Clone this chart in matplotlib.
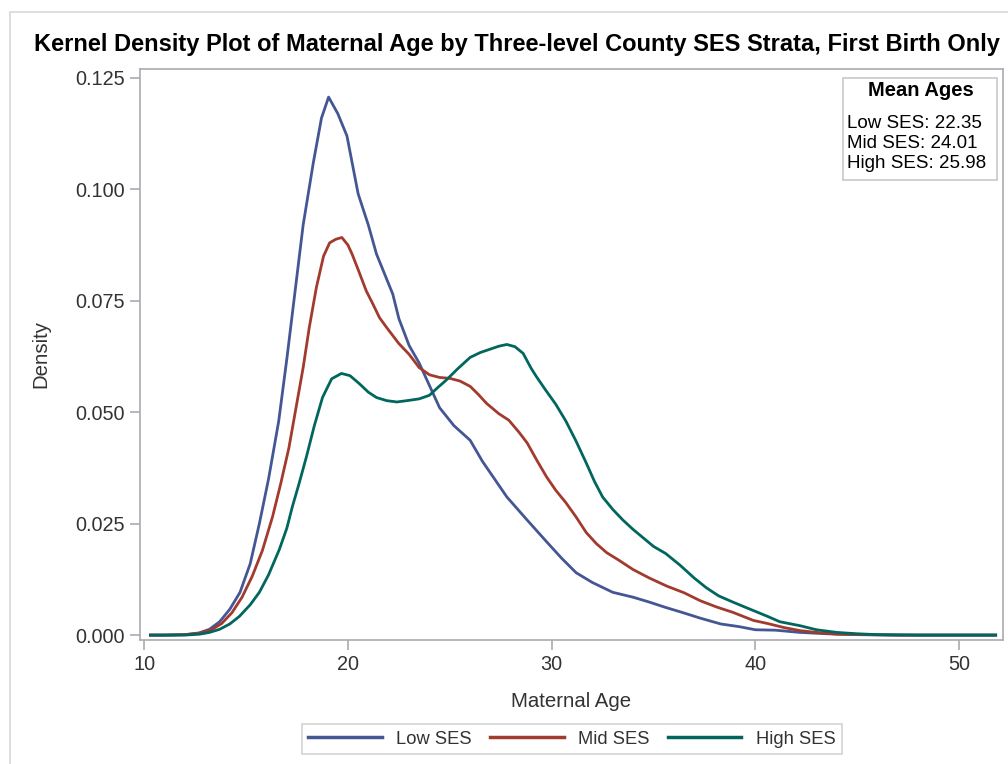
import matplotlib
matplotlib.use("Agg")
import matplotlib.pyplot as plt
from matplotlib.patches import Rectangle
from matplotlib.lines import Line2D

plt.rcParams['font.family'] = ['Liberation Sans', 'DejaVu Sans']

# kernel density estimates
low_age = [10.3, 11, 12, 12.7, 13.2, 13.7, 14.2, 14.7, 15.2, 15.65, 16.1, 16.6, 17.0, 17.4, 17.8,
           18.3, 18.7, 19.05, 19.5, 19.95, 20.5, 21.0, 21.4, 21.8, 22.2, 22.5, 23.0, 23.5, 24.0,
           24.5, 25.2, 26.0, 26.6, 27.2, 27.8, 28.8, 29.8, 30.5, 31.2, 32.0, 33.0, 34.0, 34.8,
           35.6, 36.4, 37.3, 38.3, 39.2, 40.0, 41.0, 42.2, 43.5, 45, 47, 50, 51.8]
low_dens = [0, 0, 0.0001, 0.0005, 0.0013, 0.003, 0.0058, 0.0096, 0.016, 0.025, 0.035, 0.048, 0.062,
            0.077, 0.092, 0.106, 0.116, 0.1207, 0.117, 0.112, 0.099, 0.092, 0.0855, 0.081, 0.0765,
            0.071, 0.065, 0.061, 0.056, 0.051, 0.047, 0.0437, 0.039, 0.035, 0.031, 0.0258, 0.0207,
            0.0172, 0.014, 0.0118, 0.0096, 0.0085, 0.0074, 0.0062, 0.0051, 0.0038, 0.0025, 0.0019,
            0.0012, 0.0011, 0.0006, 0.0003, 0.0001, 0, 0, 0]

mid_age = [10.3, 11, 12, 12.7, 13.3, 13.8, 14.3, 14.8, 15.3, 15.8, 16.3, 16.7, 17.1, 17.45, 17.8,
           18.1, 18.45, 18.8, 19.1, 19.4, 19.7, 20.0, 20.2, 20.5, 20.9, 21.2, 21.55, 21.9, 22.2,
           22.5, 23.0, 23.5, 24.0, 24.5, 25.0, 25.5, 26.0, 26.4, 26.8, 27.4, 27.9, 28.4, 28.8,
           29.3, 29.75, 30.2, 30.7, 31.2, 31.7, 32.2, 32.7, 33.3, 34.0, 34.8, 35.65, 36.5, 37.3,
           38.1, 38.9, 39.9, 40.6, 41.4, 42.2, 43, 44, 45.5, 47, 51.8]
mid_dens = [0, 0, 0.0001, 0.0004, 0.0012, 0.0026, 0.005, 0.0085, 0.0132, 0.019, 0.0266, 0.034,
            0.042, 0.051, 0.06, 0.069, 0.078, 0.085, 0.088, 0.0888, 0.0892, 0.0875, 0.0855, 0.082,
            0.0772, 0.0745, 0.0712, 0.069, 0.0672, 0.0654, 0.063, 0.06, 0.0584, 0.0578, 0.0576,
            0.057, 0.0558, 0.054, 0.052, 0.0497, 0.0482, 0.0455, 0.0431, 0.039, 0.0355, 0.0325,
            0.0297, 0.0265, 0.023, 0.0205, 0.0185, 0.0168, 0.0147, 0.0128, 0.011, 0.0095, 0.0077,
            0.0063, 0.0051, 0.0033, 0.0026, 0.0017, 0.001, 0.0006, 0.0002, 0.0001, 0, 0]

high_age = [10.3, 11, 12, 12.7, 13.2, 13.7, 14.2, 14.67, 15.2, 15.65, 16.1, 16.63, 17.0, 17.27,
            17.6, 17.96, 18.35, 18.75, 19.2, 19.68, 20.1, 20.56, 21.0, 21.4, 21.9, 22.4, 22.9,
            23.5, 24.0, 24.4, 24.8, 25.4, 26.0, 26.5, 26.95, 27.4, 27.8, 28.2, 28.6, 29.0, 29.25,
            29.7, 30.2, 30.7, 31.2, 31.7, 32.1, 32.5, 33.0, 33.5, 34.0, 34.5, 35.0, 35.6, 36.3,
            37.0, 37.6, 38.2, 38.9, 39.8, 40.6, 41.2, 42.2, 43.0, 44.0, 45, 46, 48, 51.8]
high_dens = [0, 0, 0, 0.0002, 0.0006, 0.0013, 0.0025, 0.0042, 0.0068, 0.0096, 0.0135, 0.0192,
             0.024, 0.0288, 0.034, 0.04, 0.047, 0.0533, 0.0575, 0.0587, 0.0582, 0.0564, 0.0545,
             0.0533, 0.0526, 0.0523, 0.0526, 0.053, 0.0538, 0.0555, 0.0571, 0.0598, 0.0623,
             0.0634, 0.0641, 0.0648, 0.0652, 0.0647, 0.0632, 0.0598, 0.058, 0.055, 0.0518, 0.048,
             0.0435, 0.0386, 0.0345, 0.031, 0.0282, 0.0258, 0.0237, 0.0218, 0.0199, 0.0183,
             0.0157, 0.0128, 0.0106, 0.0088, 0.0074, 0.0057, 0.0042, 0.003, 0.0021, 0.0012,
             0.0006, 0.0003, 0.0001, 0, 0]

series_names = ['Low SES', 'Mid SES', 'High SES']
mean_ages = [22.35, 24.01, 25.98]
colors = ['#445694', '#A23A2E', '#01665E']

W, H = 1008, 764
fig = plt.figure(figsize=(W / 100, H / 100), dpi=100)
fig.patch.set_facecolor('white')

# outer graph border (screenshot frame)
fig.patches.append(Rectangle((10 / W, -0.1), 1.2, 1 - 12 / H + 0.1, transform=fig.transFigure,
                             fill=False, edgecolor='#D8D8D8', lw=1.2))

ax = fig.add_axes([140 / W, 1 - 640 / H, 863 / W, 571 / H])
ages = [low_age, mid_age, high_age]
dens = [low_dens, mid_dens, high_dens]
for a, d, c, n in zip(ages, dens, colors, series_names):
    ax.plot(a, d, color=c, lw=2.0, label=n, solid_joinstyle='round')

ax.set_xlim(9.79, 52.16)
ax.set_ylim(-0.0011, 0.127)
ax.set_xticks([10, 20, 30, 40, 50])
ax.set_yticks([0, 0.025, 0.05, 0.075, 0.1, 0.125])
ax.set_yticklabels([f'{v:.3f}' for v in ax.get_yticks()])
for s in ax.spines.values():
    s.set_color('#A8ACB0')
    s.set_linewidth(1.2)
ax.tick_params(colors='#A8ACB0', labelcolor='#333333', labelsize=14.3, length=7, width=1.2, pad=4)
ax.set_xlabel('Maternal Age', fontsize=14.7, color='#333333', labelpad=13)
ax.set_ylabel('Density', fontsize=14.7, color='#333333', labelpad=18)

fig.text(517 / W, 1 - 44 / H, 'Kernel Density Plot of Maternal Age by Three-level County SES Strata, First Birth Only',
         ha='center', va='center', fontsize=17, fontweight='bold', color='black')

# mean ages inset box
fig.patches.append(Rectangle((843 / W, 1 - 180 / H), 154 / W, 102 / H, transform=fig.transFigure,
                             fill=True, facecolor='white', edgecolor='#C8C8C8', lw=1.2, zorder=5))
fig.text(921 / W, 1 - 91 / H, 'Mean Ages', ha='center', va='center', fontsize=14.5,
         fontweight='bold', color='black', zorder=6)
for i, (n, m) in enumerate(zip(series_names, mean_ages)):
    fig.text(847 / W, 1 - (123 + 20.5 * i) / H, f'{n}: {m:.2f}', ha='left', va='center',
             fontsize=13.5, color='black', zorder=6)

handles = [Line2D([0], [0], color=c, lw=2.5) for c in colors]
leg = fig.legend(handles, series_names, loc='center', bbox_to_anchor=(572 / W, 1 - 739 / H),
                 ncol=3, frameon=True, fontsize=13.2, handlelength=4.0, columnspacing=1.0,
                 handletextpad=0.8, borderpad=0.35, fancybox=False)
leg.get_frame().set_edgecolor('#C8C8C8')
leg.get_frame().set_linewidth(1.2)
for t in leg.get_texts():
    t.set_color('#333333')

fig.savefig('out.png', dpi=100)
